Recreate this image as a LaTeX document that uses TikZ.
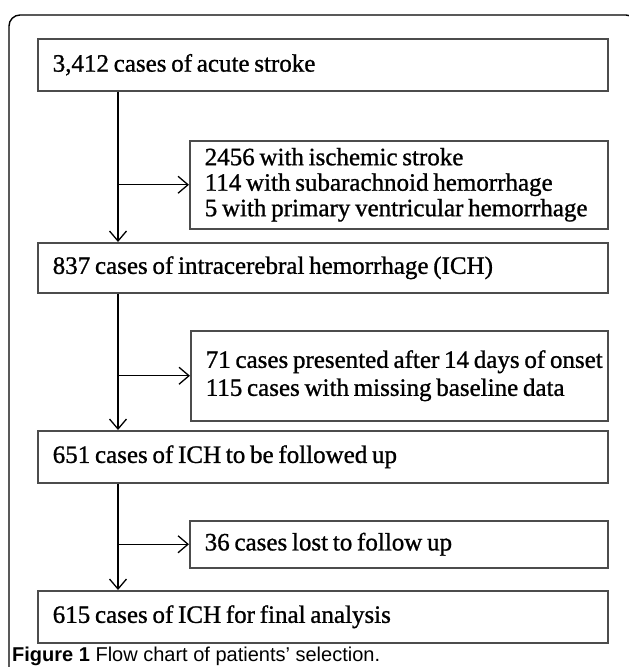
\documentclass[tikz,border=0pt]{standalone}
\usepackage{fontspec}
\setmainfont{Liberation Serif}[FakeBold=1.0]
\newfontfamily\capfont{Liberation Sans}
\usetikzlibrary{arrows.meta}

\begin{document}
\begin{tikzpicture}[x=1pt,y=-1pt,
  box/.style={draw=black!70, line width=1.5pt, anchor=north west, inner xsep=15pt, inner ysep=0pt, align=left, font=\fontsize{25}{25.5}\selectfont, execute at begin node={\spaceskip=.19em\relax}},
  arr/.style={line width=1.3pt, -{Straight Barb[length=10pt,width=17pt]}}]
\useasboundingbox (0,0) rectangle (629,667);
\clip (0,0) rectangle (629,667);
\draw[line width=1.4pt, rounded corners=11pt] (9,700) -- (9,15) -- (637,15) -- (637,700);
\node[box, minimum width=570pt, minimum height=52pt, text width=540pt] (acute) at (37,38) {3,412 cases of acute stroke};
\node[box, minimum width=418pt, minimum height=88pt, text width=388pt] (excla) at (189,140) {2456 with ischemic stroke\\114 with subarachnoid hemorrhage\\5 with primary ventricular hemorrhage};
\node[box, minimum width=570pt, minimum height=50pt, text width=540pt] (ich) at (37,242) {837 cases of intracerebral hemorrhage (ICH)};
\node[box, minimum width=417pt, minimum height=90pt, text width=387pt, font=\fontsize{25}{28}\selectfont] (exclb) at (190,330) {\mbox{71 cases presented after 14 days of onset}\\115 cases with missing baseline data\\[6pt]};
\node[box, minimum width=570pt, minimum height=52pt, text width=540pt] (follow) at (37,430) {651 cases of ICH to be followed up};
\node[box, minimum width=418pt, minimum height=47pt, text width=388pt] (lost) at (189,520) {36 cases lost to follow up};
\node[box, minimum width=570pt, minimum height=52pt, text width=540pt] (final) at (37,590) {615 cases of ICH for final analysis};
\node[anchor=west, inner sep=0pt, font=\capfont\fontsize{20}{24}\selectfont] (caption) at (12,656) {\textbf{Figure 1} Flow chart of patients’ selection.};
\coordinate (trunk) at (118,0);
\draw[arr] (trunk |- acute.south) -- (trunk |- ich.north);
\draw[arr] (trunk |- excla.west) -- (excla.west);
\draw[arr] (trunk |- ich.south) -- (trunk |- follow.north);
\draw[arr] (trunk |- exclb.west) -- (exclb.west);
\draw[arr] (trunk |- follow.south) -- (trunk |- final.north);
\draw[arr] (trunk |- lost.west) -- (lost.west);
\end{tikzpicture}
\end{document}
